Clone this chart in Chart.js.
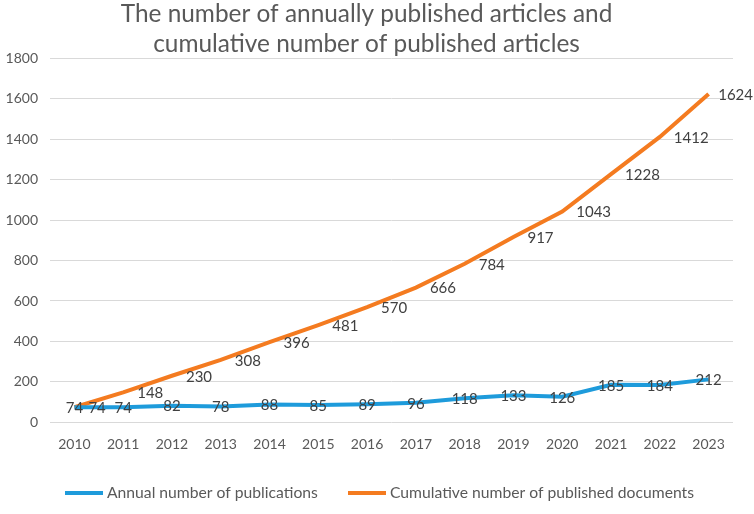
<!DOCTYPE html>
<html>
<head>
<meta charset="utf-8">
<script src="https://cdn.jsdelivr.net/npm/chart.js@4.4.1/dist/chart.umd.min.js"></script>
<style>
html,body{margin:0;padding:0;background:#fff;}
#wrap{width:754px;height:514px;}
</style>
</head>
<body>
<div id="wrap"><canvas id="c"></canvas></div>
<script>
const years = ['2010','2011','2012','2013','2014','2015','2016','2017','2018','2019','2020','2021','2022','2023'];
const annual = [74,74,82,78,88,85,89,96,118,133,126,185,184,212];
const cumulative = [74,148,230,308,396,481,570,666,784,917,1043,1228,1412,1624];
const titleLines = ['The number of annually published articles and','cumulative number of published articles'];
const seriesNames = ['Annual number of publications','Cumulative number of published documents'];

const FONT = 'Lato, "Open Sans", sans-serif';
const BLUE = '#1E9BDB';
const ORANGE = '#F47B20';

const labelPlugin = {
  id: 'pointLabels',
  afterDatasetsDraw(chart) {
    const ctx = chart.ctx;
    ctx.save();
    ctx.font = '15px ' + FONT;
    ctx.fillStyle = '#404040';
    ctx.textBaseline = 'middle';
    chart.data.datasets.forEach((ds, di) => {
      const meta = chart.getDatasetMeta(di);
      meta.data.forEach((pt, i) => {
        const s = String(ds.data[i]);
        if (di === 0) {
          ctx.textAlign = 'center';
          ctx.fillText(s, pt.x, pt.y + 1);
        } else {
          ctx.textAlign = 'left';
          const w = ctx.measureText(s).width;
          const x = Math.min(pt.x + 14, chart.width - w - 1);
          ctx.fillText(s, x, pt.y + 1);
        }
      });
    });
    ctx.restore();
  }
};

// Bottom legend drawn manually (line sample + text)
const legendPlugin = {
  id: 'bottomLegend',
  afterDraw(chart) {
    const ctx = chart.ctx;
    const y = chart.height - 21;
    const starts = [65, 348];
    ctx.save();
    ctx.font = '15.7px ' + FONT;
    ctx.textBaseline = 'middle';
    ctx.textAlign = 'left';
    chart.data.datasets.forEach((ds, i) => {
      const x = starts[i];
      ctx.strokeStyle = ds.borderColor;
      ctx.lineWidth = 4;
      ctx.beginPath();
      ctx.moveTo(x, y);
      ctx.lineTo(x + 38, y);
      ctx.stroke();
      ctx.fillStyle = '#595959';
      ctx.fillText(ds.label, x + 42, y);
    });
    ctx.restore();
  }
};

new Chart(document.getElementById('c'), {
  type: 'line',
  data: {
    labels: years,
    datasets: [
      {label: seriesNames[0], data: annual, borderColor: BLUE, backgroundColor: BLUE, borderWidth: 4, pointRadius: 0, tension: 0},
      {label: seriesNames[1], data: cumulative, borderColor: ORANGE, backgroundColor: ORANGE, borderWidth: 4, pointRadius: 0, tension: 0}
    ]
  },
  options: {
    responsive: true,
    maintainAspectRatio: false,
    animation: false,
    layout: {padding: {left: 0, right: 21, top: 0, bottom: 55}},
    plugins: {
      title: {display: true, text: titleLines, color: '#595959', font: {family: FONT, size: 24.4, weight: 'normal'}, padding: {top: 0, bottom: 0}, lineHeight: 1.3},
      legend: {display: false},
      tooltip: {enabled: false}
    },
    scales: {
      x: {
        offset: true,
        grid: {display: false},
        border: {display: false},
        ticks: {color: '#595959', font: {family: FONT, size: 14}, padding: 6, maxRotation: 0}
      },
      y: {
        min: 0, max: 1800,
        ticks: {stepSize: 200, color: '#595959', font: {family: FONT, size: 14}, padding: 12, callback: v => String(v)},
        grid: {color: '#D9D9D9', lineWidth: 1, drawTicks: false},
        border: {display: false},
        afterFit(scale) { scale.width = 50; }
      }
    }
  },
  plugins: [labelPlugin, legendPlugin]
});
</script>
</body>
</html>
